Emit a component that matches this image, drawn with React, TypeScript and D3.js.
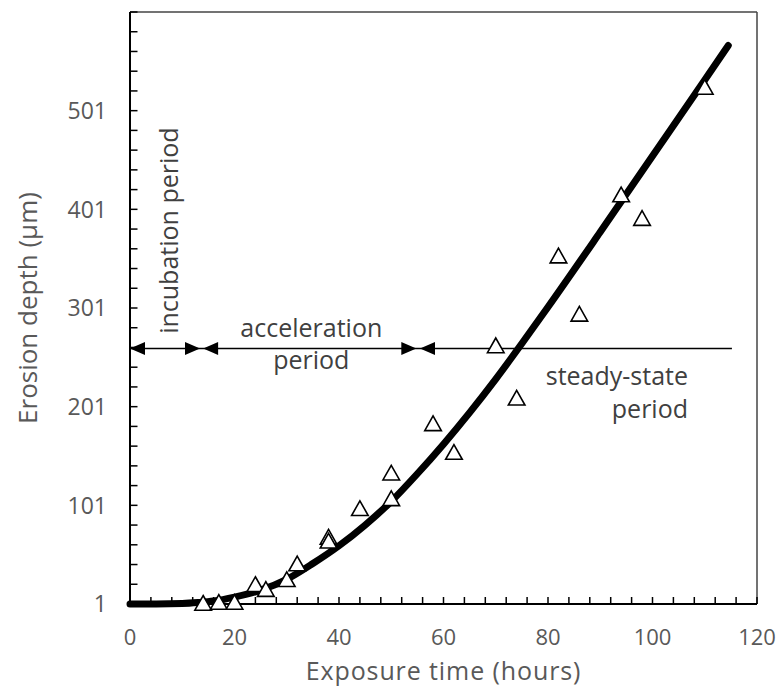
import React from "react";
import * as d3 from "d3";

// Measured erosion data (open triangles)
const times = [14, 17, 20, 24, 26, 30, 32, 38, 38, 44, 50, 50, 58, 62, 70, 74, 82, 86, 94, 98, 110];
const depths = [2, 3, 3, 21, 16, 26, 42, 69, 65, 98, 134, 108, 184, 155, 263, 210, 354, 295, 416, 392, 525];

// Fitted curve (thick black line)
const curveT = [0, 5, 10, 13, 16, 20, 25, 30, 35, 40, 45, 50, 55, 60, 65, 70, 75, 80, 90, 100, 110, 114.5];
const curveV = [1, 1, 1.5, 2.5, 4, 8, 15, 26, 42, 60, 81, 105, 133, 163, 195, 229, 265, 302, 378, 455, 532, 567];

// Axis ticks
const xTickLabels = [0, 20, 40, 60, 80, 100, 120];
const yTickLabels = [1, 101, 201, 301, 401, 501];

// Period boundary arrows on the horizontal line
const periodLineLevel = 260;
const periodLineEnd = 115.2;
const arrowTips = [0, 13.4, 14, 54.8, 55.5];
const arrowDirs = [-1, 1, -1, 1, -1];

const W = 781;
const H = 693;
const margin = { left: 130, right: 24, top: 12, bottom: 89 };

export default function App() {
  const x = d3.scaleLinear().domain([0, 120]).range([margin.left, W - margin.right]);
  const y = d3.scaleLinear().domain([1, 601]).range([H - margin.bottom, margin.top]);

  const minorX = d3.range(0, 121, 4);
  const minorY = d3.range(1, 602, 20);

  const line = d3
    .line<number>()
    .x((_, i) => x(curveT[i]))
    .y((_, i) => y(curveV[i]))
    .curve(d3.curveMonotoneX);

  const tri = (cx: number, cy: number) => {
    const p = d3.path();
    p.moveTo(cx, cy - 7.5);
    p.lineTo(cx + 8.3, cy + 7.2);
    p.lineTo(cx - 8.3, cy + 7.2);
    p.closePath();
    return p.toString();
  };

  const arrow = (tip: number, dir: number) => {
    const tx = x(tip);
    const ty = y(periodLineLevel);
    const p = d3.path();
    p.moveTo(tx, ty);
    p.lineTo(tx - dir * 15, ty - 6.5);
    p.lineTo(tx - dir * 15, ty + 6.5);
    p.closePath();
    return p.toString();
  };

  const font = "'Open Sans', sans-serif";
  const x0 = x(0), x1 = x(120), y0 = y(1), y1 = y(601);

  return (
    <svg width={W} height={H} style={{ position: "absolute", left: 0, top: 0, background: "#fff" }} fontFamily={font}>
      <rect x={0} y={0} width={W} height={H} fill="#fff" />
      {/* frame */}
      <line x1={x0} y1={y1} x2={x1} y2={y1} stroke="#444" strokeWidth={1.5} />
      <line x1={x1} y1={y1} x2={x1} y2={y0} stroke="#444" strokeWidth={1.5} />

      {/* ticks */}
      {minorX.map((t) => (
        <line key={"xt" + t} x1={x(t)} x2={x(t)} y1={y0} y2={y0 - 7} stroke="#000" strokeWidth={1.5} />
      ))}
      {minorY.map((v) => (
        <line key={"yt" + v} x1={x0} x2={x0 + 7.5} y1={y(v)} y2={y(v)} stroke="#000" strokeWidth={1.5} />
      ))}
      <line x1={x0} y1={y1} x2={x0} y2={y0} stroke="#000" strokeWidth={2} />
      <line x1={x0} y1={y0} x2={x1} y2={y0} stroke="#000" strokeWidth={2} />

      {/* tick labels */}
      {xTickLabels.map((t) => (
        <text key={"xl" + t} x={x(t)} y={645} textAnchor="middle" fontSize={22} fill="#595959">
          {t}
        </text>
      ))}
      {yTickLabels.map((v) => (
        <text key={"yl" + v} x={107} y={y(v)} dy="0.36em" textAnchor="end" fontSize={23} fill="#595959">
          {v}
        </text>
      ))}

      {/* axis titles */}
      <text x={(x0 + x1) / 2} y={680} textAnchor="middle" fontSize={25} letterSpacing={0.9} fill="#595959">
        Exposure time (hours)
      </text>
      <text transform={`translate(37,${(y0 + y1) / 2}) rotate(-90)`} textAnchor="middle" fontSize={26} fill="#595959">
        Erosion depth (µm)
      </text>

      {/* period line & arrows */}
      <line x1={x(0)} x2={x(periodLineEnd)} y1={y(periodLineLevel)} y2={y(periodLineLevel)} stroke="#000" strokeWidth={1.5} />
      {arrowTips.map((t, i) => (
        <path key={"ar" + i} d={arrow(t, arrowDirs[i])} fill="#000" />
      ))}

      {/* annotations */}
      <text transform={`translate(${x(9.2)},${y(379.4)}) rotate(-90)`} textAnchor="middle" fontSize={25} fill="#404040">
        incubation period
      </text>
      <text x={x(34.7)} y={y(272)} textAnchor="middle" fontSize={25} fill="#404040">
        acceleration
      </text>
      <text x={x(34.7)} y={y(239)} textAnchor="middle" fontSize={25} fill="#404040">
        period
      </text>
      <text x={x(106.8)} y={y(222.6)} textAnchor="end" fontSize={25} fill="#404040">
        steady-state
      </text>
      <text x={x(106.8)} y={y(189.2)} textAnchor="end" fontSize={25} fill="#404040">
        period
      </text>

      {/* fitted curve */}
      <path d={line(curveT) || ""} fill="none" stroke="#000" strokeWidth={7} strokeLinecap="round" strokeLinejoin="round" />

      {/* data markers */}
      {times.map((t, i) => (
        <path key={"pt" + i} d={tri(x(t), y(depths[i]))} fill="#fff" stroke="#000" strokeWidth={1.6} />
      ))}
    </svg>
  );
}
